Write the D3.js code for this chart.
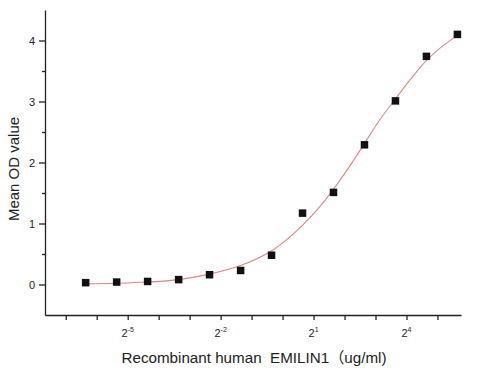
<!DOCTYPE html>
<html>
<head>
<meta charset="utf-8">
<script src="https://cdn.jsdelivr.net/npm/d3@7"></script>
<style>
  body { margin: 0; background: #fff; }
  svg { display: block; font-family: Arial, "Liberation Sans", "Noto Sans CJK SC", sans-serif; }
</style>
</head>
<body>
<div id="chart"></div>
<script>
// measured points (ug/ml, mean OD)
var conc = [0.0122, 0.0244, 0.0488, 0.0977, 0.195, 0.391, 0.781, 1.5625, 3.125, 6.25, 12.5, 25, 50];
var od = [0.03, 0.04, 0.05, 0.08, 0.16, 0.23, 0.48, 1.17, 1.51, 2.29, 3.01, 3.74, 4.10];

// fitted curve (log2 of conc, OD)
var fitLog2 = [-6.36, -5.36, -4.36, -3.36, -2.36, -1.36, -0.36, 0.14, 0.64, 1.14, 1.64, 2.14, 2.64, 3.14, 3.64, 4.14, 4.64, 5.14, 5.64];
var fitOD = [0.01, 0.02, 0.04, 0.08, 0.17, 0.31, 0.55, 0.74, 0.97, 1.24, 1.56, 1.92, 2.31, 2.70, 3.04, 3.37, 3.67, 3.90, 4.08];

var xTickExp = [-7, -6, -5, -4, -3, -2, -1, 0, 1, 2, 3, 4, 5];
var xLabelExp = [-5, -2, 1, 4];
var yMajor = [0, 1, 2, 3, 4];
var yMinor = [0.5, 1.5, 2.5, 3.5];

var width = 486, height = 373;
var svg = d3.select('#chart').append('svg')
  .attr('width', width)
  .attr('height', height);

var x = d3.scaleLog().base(2)
  .domain([Math.pow(2, -7.67), Math.pow(2, 5.76)])
  .range([45, 461]);

var y = d3.scaleLinear()
  .domain([-0.5, 4.5])
  .range([315, 10]);

// x axis
var xAxis = svg.append('g')
  .attr('transform', 'translate(0,' + y(-0.5) + ')')
  .call(d3.axisBottom(x)
    .tickValues(xTickExp.map(function (e) { return Math.pow(2, e); }))
    .tickFormat('')
    .tickSize(5)
    .tickSizeOuter(0));

// y axis, major + minor
var yAxis = svg.append('g')
  .attr('transform', 'translate(' + x.range()[0] + ',0)')
  .call(d3.axisLeft(y)
    .tickValues(yMajor)
    .tickFormat(d3.format('d'))
    .tickSize(6)
    .tickSizeOuter(0)
    .tickPadding(4));

svg.append('g')
  .attr('transform', 'translate(' + x.range()[0] + ',0)')
  .call(d3.axisLeft(y)
    .tickValues(yMinor)
    .tickFormat('')
    .tickSize(3)
    .tickSizeOuter(0))
  .select('.domain').remove();

svg.selectAll('.domain, .tick line')
  .attr('stroke', '#222')
  .attr('stroke-width', 1.3);

yAxis.selectAll('text')
  .attr('font-size', 11)
  .attr('fill', '#222')
  .attr('font-family', 'Arial, "Liberation Sans", sans-serif');

// x tick labels as 2^n
var xLabels = svg.selectAll('.xlab')
  .data(xLabelExp)
  .enter()
  .append('text')
  .attr('class', 'xlab')
  .attr('x', function (d) { return x(Math.pow(2, d)); })
  .attr('y', 337)
  .attr('text-anchor', 'middle')
  .attr('font-size', 11)
  .attr('fill', '#222');

xLabels.append('tspan').text('2');
xLabels.append('tspan')
  .attr('dy', -5)
  .attr('font-size', 7)
  .text(function (d) { return d; });

// fitted curve
var line = d3.line()
  .x(function (d) { return x(Math.pow(2, d[0])); })
  .y(function (d) { return y(d[1]); })
  .curve(d3.curveCatmullRom);

svg.append('path')
  .datum(fitLog2.map(function (v, i) { return [v, fitOD[i]]; }))
  .attr('fill', 'none')
  .attr('stroke', '#e08585')
  .attr('stroke-width', 1.1)
  .attr('d', line);

// points
var s = 7.5;
svg.selectAll('.pt')
  .data(conc)
  .enter()
  .append('rect')
  .attr('class', 'pt')
  .attr('x', function (d) { return x(d) - s / 2; })
  .attr('y', function (d, i) { return y(od[i]) - s / 2; })
  .attr('width', s)
  .attr('height', s)
  .attr('fill', '#111');

// axis titles
svg.append('text')
  .attr('x', 254)
  .attr('y', 363)
  .attr('text-anchor', 'middle')
  .attr('font-size', 15.2)
  .attr('fill', '#222')
  .style('white-space', 'pre')
  .text('Recombinant human  EMILIN1\uFF08ug/ml)');

svg.append('text')
  .attr('transform', 'translate(19,169) rotate(-90)')
  .attr('text-anchor', 'middle')
  .attr('font-size', 15)
  .attr('fill', '#222')
  .text('Mean OD value');
</script>
</body>
</html>
